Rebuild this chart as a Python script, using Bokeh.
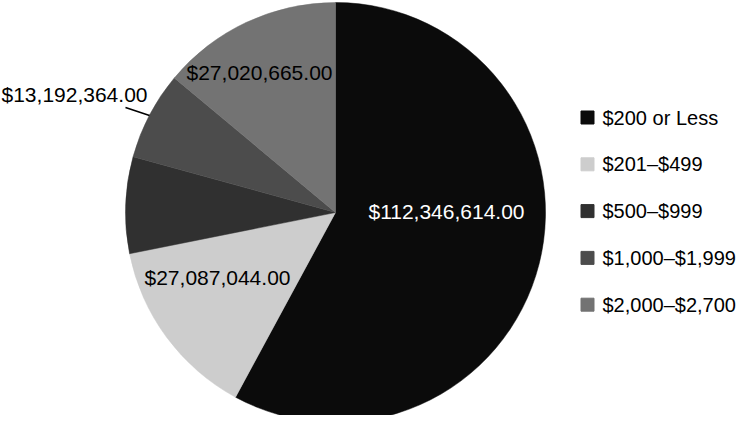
import numpy as np
from bokeh.plotting import figure
from bokeh.models import ColumnDataSource
from bokeh.core.properties import value
from bokeh.embed import file_html
from bokeh.resources import INLINE

# ---- data ----
categories = ["$200 or Less", "$201\u2013$499", "$500\u2013$999", "$1,000\u2013$1,999", "$2,000\u2013$2,700"]
amounts = [112346614.00, 27087044.00, 14400000.00, 13192364.00, 27020665.00]
show_label = [True, True, False, True, True]
colors = ["#0b0b0b", "#cdcdcd", "#303030", "#4c4c4c", "#737373"]
label_colors = ["white", "black", "black", "black", "black"]

# ---- layout (pixel space) ----
W, H = 740, 415
cx, cy, R = 335, H - 212, 210
FONT = value("Liberation Sans")
FS_LABEL = "21px"
FS_LEGEND = "20px"

p = figure(width=W, height=H, x_range=(0, W), y_range=(0, H),
           output_backend="svg", toolbar_location=None,
           min_border=0, outline_line_color=None)
p.axis.visible = False
p.grid.visible = False

vals = np.array(amounts)
frac = vals / vals.sum()
cum = np.concatenate([[0], np.cumsum(frac)])
theta0 = cum[:-1] * 2 * np.pi
theta1 = cum[1:] * 2 * np.pi
start = np.pi / 2 - theta0
end = np.pi / 2 - theta1

src = ColumnDataSource(dict(cat=categories, start=start, end=end, color=colors))
p.wedge(x=cx, y=cy, radius=R, start_angle="start", end_angle="end",
        direction="clock", fill_color="color", line_color="color", line_width=0.5, source=src)

# data labels (placement offsets)
label_pos = [(446, H - 211), (217, H - 277), None, (74, H - 94), (259, H - 72)]
lx, ly, lt, lc = [], [], [], []
for i, v in enumerate(amounts):
    if show_label[i] and label_pos[i] is not None:
        lx.append(label_pos[i][0]); ly.append(label_pos[i][1])
        lt.append("${:,.2f}".format(v)); lc.append(label_colors[i])
p.text(x=lx, y=ly, text=lt, text_color=lc, text_align="center", text_baseline="middle",
       text_font=FONT, text_font_size=FS_LABEL)

# leader line for the $1,000-$1,999 label
p.line(x=[125, 149], y=[H - 107, H - 115], line_color="black", line_width=1.5)

# legend
leg_y = [H - 117 - 46.8 * i for i in range(len(categories))]
p.rect(x=[587] * len(categories), y=leg_y, width=13, height=13, fill_color=colors, line_color=colors)
p.text(x=[602] * len(categories), y=leg_y, text=categories, text_color="black",
       text_align="left", text_baseline="middle", text_font=FONT, text_font_size=FS_LEGEND)

open("out.html", "w").write(file_html(p, INLINE))
